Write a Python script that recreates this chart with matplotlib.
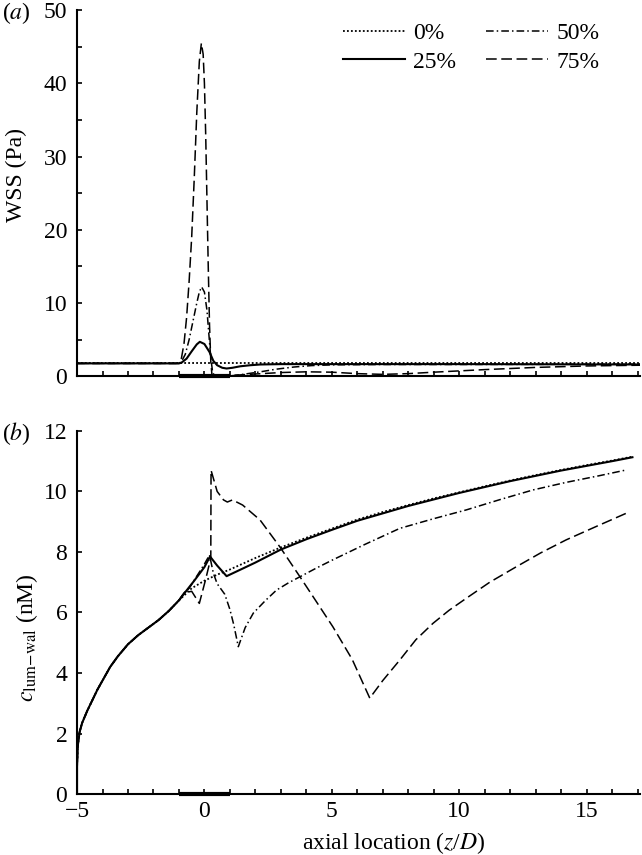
import matplotlib
matplotlib.use('Agg')
import matplotlib.pyplot as plt
from matplotlib.ticker import MultipleLocator

plt.rcParams['font.family'] = ['Liberation Serif', 'DejaVu Serif']
plt.rcParams['mathtext.fontset'] = 'stix'
plt.rcParams['axes.unicode_minus'] = True

# stenosis throat region (thick bar on axis)
stenosis = [-1, 1]

labels = ['0%', '25%', '50%', '75%']

# (a) wall shear stress, Pa
wss_x0 = [-5, 17.1]
wss_0 = [1.75, 1.75]

wss_x25 = [-5, -1.0, -0.9, -0.7, -0.5, -0.3, -0.18, 0.0, 0.2, 0.35, 0.5, 0.7, 0.87,
           1.1, 1.4, 1.8, 2.2, 3, 5, 10, 17.1]
wss_25 = [1.75, 1.75, 1.85, 2.4, 3.4, 4.35, 4.7, 4.4, 3.3, 2.1, 1.5, 1.15, 1.05,
          1.15, 1.35, 1.5, 1.6, 1.65, 1.65, 1.65, 1.6]

wss_x50 = [-5, -1.0, -0.9, -0.75, -0.6, -0.45, -0.3, -0.2, -0.11, 0.0, 0.1, 0.18, 0.25,
           0.32, 0.4, 0.8, 1.2, 1.6, 2.2, 2.8, 3.5, 4.2, 5, 7, 10, 17.1]
wss_50 = [1.75, 1.75, 2.0, 3.0, 5.0, 7.5, 10.0, 11.5, 12.2, 11.5, 9.0, 5.5, 2.5,
          0.6, 0.0, 0.0, 0.1, 0.3, 0.6, 0.95, 1.25, 1.45, 1.55, 1.6, 1.6, 1.65]

wss_x75 = [-5, -1.0, -0.9, -0.8, -0.7, -0.6, -0.5, -0.4, -0.3, -0.2, -0.12, -0.05, 0.0,
           0.05, 0.1, 0.15, 0.2, 0.25, 0.3, 1, 2, 3, 4, 5, 6, 7, 8, 9, 11, 13, 15, 17.1]
wss_75 = [1.75, 1.75, 2.5, 4.5, 8, 13, 19, 27, 36, 43, 45.5, 44, 40,
          33, 24, 15, 7, 2, 0, 0.1, 0.3, 0.5, 0.6, 0.55, 0.35, 0.25, 0.35, 0.55,
          0.9, 1.2, 1.4, 1.5]

# (b) lumen-wall concentration, nM  (upstream part shared by all cases)
up_x = [-5.0, -5.0, -4.97, -4.9, -4.8, -4.6, -4.4, -4.2, -4.0, -3.7, -3.4, -3.0,
        -2.6, -2.2, -1.8, -1.4, -1.0]
up_c = [0.0, 0.9, 1.6, 2.05, 2.35, 2.75, 3.1, 3.45, 3.75, 4.2, 4.55, 4.95,
        5.25, 5.5, 5.75, 6.05, 6.4]

c_x0 = [-0.5, 0, 0.5, 1, 2, 3, 4, 5, 6, 7, 8, 9, 10, 11, 12, 13, 14, 15, 16, 16.8]
c_0 = [6.8, 7.05, 7.25, 7.42, 7.8, 8.15, 8.47, 8.77, 9.07, 9.32, 9.55, 9.77, 9.97,
       10.17, 10.36, 10.54, 10.71, 10.87, 11.02, 11.15]

c_x25 = [-0.8, -0.4, 0.0, 0.22, 0.5, 0.87, 1.5, 2, 3, 4, 5, 6, 8, 10, 12, 14, 16, 16.8]
c_25 = [6.62, 7.05, 7.5, 7.85, 7.55, 7.2, 7.45, 7.65, 8.08, 8.42, 8.73, 9.03, 9.52,
        9.95, 10.34, 10.69, 11.0, 11.13]

c_x50 = [-0.8, -0.6, -0.3, 0.0, 0.2, 0.35, 0.5, 0.8, 1.0, 1.15, 1.33, 1.6, 1.92, 2.4,
         2.83, 3.3, 3.75, 4.4, 5.04, 6.3, 7.67, 9, 10.28, 11.6, 12.9, 14.2, 15.5, 16.56]
c_50 = [6.65, 6.8, 7.2, 7.6, 7.9, 7.3, 6.95, 6.6, 6.1, 5.6, 4.87, 5.5, 5.98, 6.4,
        6.74, 6.98, 7.18, 7.47, 7.74, 8.25, 8.78, 9.1, 9.39, 9.73, 10.05, 10.3, 10.52, 10.71]

c_x75 = [-0.8, -0.5, -0.2, 0.05, 0.25, 0.26, 0.5, 0.75, 0.9, 1.1, 1.5, 2.18, 2.96, 3.75,
         4.4, 5.04, 5.8, 6.49, 7.0, 7.67, 8.3, 8.97, 9.6, 10.28, 11.2, 12.24, 13.2,
         14.2, 15.4, 16.56]
c_75 = [6.65, 6.7, 6.3, 7.1, 7.8, 10.7, 10.0, 9.72, 9.65, 9.72, 9.55, 9.06, 8.17, 7.18,
        6.35, 5.53, 4.45, 3.17, 3.75, 4.43, 5.1, 5.64, 6.07, 6.47, 7.0, 7.51, 7.97,
        8.4, 8.85, 9.28]

styles = [
    dict(ls=(0, (1, 1.2)), lw=1.3),
    dict(ls='-', lw=1.5),
    dict(ls=(0, (5, 2, 1, 2)), lw=1.1),
    dict(ls=(0, (7, 3)), lw=1.1),
]

fig = plt.figure(figsize=(6.42, 8.55), dpi=100)
ax1 = fig.add_axes([0.12, 0.560, 0.877, 0.428])
ax2 = fig.add_axes([0.12, 0.0713, 0.877, 0.4247])

top_series = [(wss_x0, wss_0), (wss_x25, wss_25), (wss_x50, wss_50), (wss_x75, wss_75)]
for (x, y), st, lab in zip(top_series, styles, labels):
    ax1.plot(x, y, color='black', label=lab, **st)

bot_series = [(c_x0, c_0), (c_x25, c_25), (c_x50, c_50), (c_x75, c_75)]
for (x, y), st in zip(bot_series, styles):
    ax2.plot(up_x + x, up_c + y, color='black', **st)

for ax in (ax1, ax2):
    ax.set_xlim(-5, 17.1)
    for s in ('top', 'right'):
        ax.spines[s].set_visible(False)
    for s in ('left', 'bottom'):
        ax.spines[s].set_linewidth(1.5)
    ax.xaxis.set_major_locator(MultipleLocator(5))
    ax.xaxis.set_minor_locator(MultipleLocator(1))
    ax.tick_params(which='both', direction='in', length=3.5, width=1.2,
                   labelsize=17, pad=5)
    ax.tick_params(axis='y', pad=7)
    ax.plot(stenosis, [0, 0], color='black', lw=3, solid_capstyle='butt',
            clip_on=False, zorder=5)

ax1.set_ylim(0, 50)
ax1.yaxis.set_major_locator(MultipleLocator(10))
ax1.yaxis.set_minor_locator(MultipleLocator(5))
ax1.tick_params(axis='x', labelbottom=False)
ax1.set_ylabel('WSS (Pa)', fontsize=17)
ax1.yaxis.set_label_coords(-0.088, 0.55)

ax2.set_ylim(0, 12)
ax2.yaxis.set_major_locator(MultipleLocator(2))
ax2.set_ylabel(r'$c_{\mathrm{lum\!-\!wal}}$ (nM)', fontsize=17)
ax2.yaxis.set_label_coords(-0.065, 0.43)
ax2.set_xlabel(r'axial location ($z$/$D$)', fontsize=17)
ax2.xaxis.set_label_coords(0.563, -0.098)

leg = ax1.legend(ncol=2, frameon=False, fontsize=17, loc='upper right',
                 bbox_to_anchor=(0.965, 1.025), handlelength=2.6, handletextpad=0.35,
                 columnspacing=1.3, labelspacing=0.3)

fig.text(0.003, 0.985, r'($a$)', fontsize=17, va='center', ha='left')
fig.text(0.003, 0.493, r'($b$)', fontsize=17, va='center', ha='left')

fig.savefig('out.png', dpi=100)
